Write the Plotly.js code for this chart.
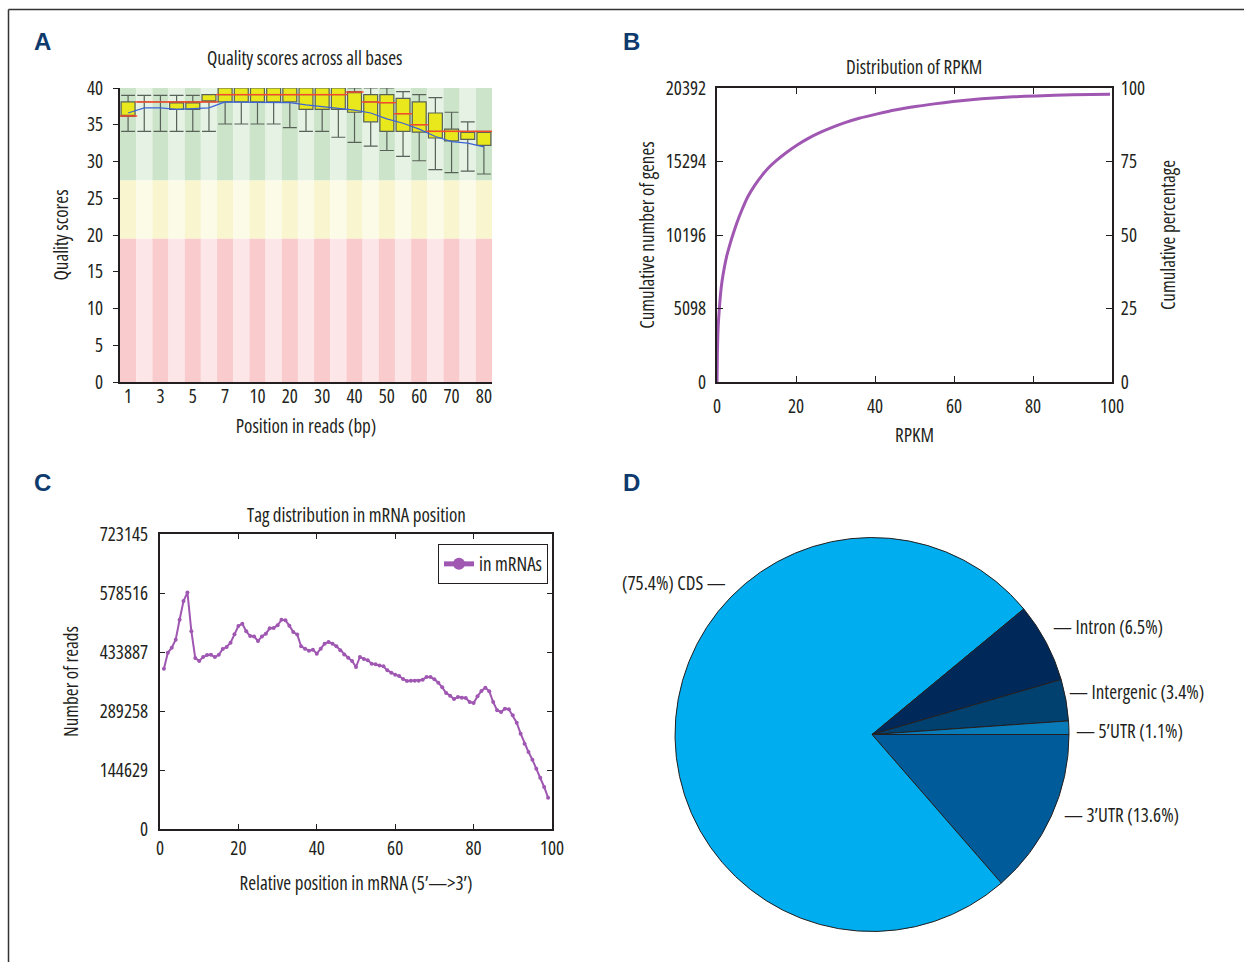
<!DOCTYPE html>
<html><head><meta charset="utf-8">
<script src="https://cdn.plot.ly/plotly-3.0.1.min.js"></script>
<style>html,body{margin:0;padding:0;background:#fff}
svg text, svg tspan{font-stretch:condensed}
</style>
</head><body><div id="chart" style="width:1244px;height:962px"></div>
<script>
// ---------- Panel A: quality scores ----------
const qTickLabels = ["1","","3","","5","","7","","10","","20","","30","","40","","50","","60","","70","","80"];
const qUpper  = [39,39,39,39,39,39,40,40,40,40,40,40,40,40,40,40,40,39.5,39.1,38.7,36.7,35.4,34.1];
const qQ3     = [38.1,38.1,38.1,38.1,38.1,39.1,40,40,40,40,40,40,40,40,39.5,39.1,39.1,38.6,38.1,36.6,34.4,34.1,34.1];
const qMedian = [36.2,38.1,38.1,38.1,38.1,38.1,39.1,39.1,39.1,39.1,39.1,39.1,39.1,39.1,39.45,38.1,38.0,36.5,35.0,34.1,34.1,34.1,34.1];
const qQ1     = [36.15,38.1,38.1,37.1,37.1,38.1,38.1,38.1,38.1,38.1,38.1,37.1,37.1,37.1,36.7,35.4,34.1,34.1,34.0,33.2,32.8,33.0,32.2];
const qLower  = [34.1,34.1,34.1,34.1,34.1,34.1,35.1,35.1,35.1,35.1,34.6,34.1,34.1,33.3,32.6,32.1,31.5,30.7,30.1,28.9,28.5,28.7,28.3];
const qMean   = [36.6,37.3,37.3,37.1,37.2,37.3,38.1,38.1,38.1,38.1,38.0,37.7,37.5,37.3,37.0,36.6,35.8,35.2,34.4,33.4,32.7,32.5,32.0];

// ---------- Panel B: RPKM distribution ----------
const rpkm = [0,0.1,0.3,0.6,0.9,1.3,1.8,2.4,3.2,4,5,6.3,7.8,9.5,11.4,13,15,17.5,20.5,23,26,29,32.4,36,40.6,45,50.7,55,59.8,65,69,75,80.8,90,99.5];
const cumGenes = [0,2039,3874,5098,6118,7035,7851,8667,9482,10196,11012,11929,12847,13622,14336,14845,15355,15906,16477,16885,17292,17639,17985,18291,18597,18863,19128,19291,19454,19597,19678,19780,19841,19923,19964];
const geneTicks = [0,5098,10196,15294,20392];
const pctTicks = [0,25,50,75,100];

// ---------- Panel C: tag distribution ----------
const relPos = [];
for (let i = 1; i <= 99; i++) relPos.push(i);
const readCounts = [393000,432000,444500,464000,513000,559000,580000,485000,419000,412000,
 421600,426500,427000,421600,427000,441200,446100,456800,477200,497600,
 503300,484500,473100,472000,460900,472000,478800,491900,492700,499300,
 513000,511500,498400,482900,477000,447800,442000,437200,439600,429800,
 442000,454300,458400,454300,447800,438000,428000,420000,411800,397100,
 421600,416700,413500,405300,403700,401000,398700,388900,383200,378300,
 375000,367700,362800,363600,363600,363600,366000,372600,372600,366900,
 358700,347300,333400,326900,318700,323600,322000,321100,311300,308900,
 325200,338300,346500,337500,311300,290900,286800,295000,293300,278600,
 260700,233700,209200,188800,170000,147900,125800,103000,76800];
const readTicks = [0,144629,289258,433887,578516,723145];

// ---------- Panel D: read distribution ----------
const regionLabels = ["3’UTR","CDS","Intron","Intergenic","5’UTR"];
const regionPct = [13.6,75.4,6.5,3.4,1.1];
const regionColors = ["#005b9b","#00adee","#00295a","#00416f","#0a7bb9"];

// ---------- helpers ----------
const W = 1244, H = 962;
const FONT = '"Open Sans", sans-serif';
const TXT = '#231f20';
const PURPLE = '#9f57b2';
const hx = (a, b) => [a / W, b / W];
const vy = (top, bottom) => [1 - bottom / H, 1 - top / H];
const qIdx = qQ1.map((_, i) => i + 1);

const shapes = [];
const bands = [
  {lo: 27.4, hi: 40, dark: '#cce5ca', light: '#e6f2e4'},
  {lo: 19.5, hi: 27.4, dark: '#f8f5cf', light: '#fbfbe8'},
  {lo: 0, hi: 19.5, dark: '#f9cbcc', light: '#fde6e7'}
];
qIdx.forEach((p, i) => {
  bands.forEach(b => {
    shapes.push({type: 'rect', xref: 'x', yref: 'y', layer: 'below',
      x0: p - 0.5, x1: p + 0.5, y0: b.lo, y1: b.hi,
      fillcolor: i % 2 === 0 ? b.dark : b.light, line: {width: 0}});
  });
});
shapes.push({type: 'line', xref: 'paper', yref: 'paper', x0: 8.5 / W, x1: 1, y0: 1 - 9.5 / H, y1: 1 - 9.5 / H, line: {color: '#333', width: 1.5}});
shapes.push({type: 'line', xref: 'paper', yref: 'paper', x0: 8.5 / W, x1: 8.5 / W, y0: 0, y1: 1 - 9.5 / H, line: {color: '#333', width: 1.5}});

const traces = [];
traces.push({type: 'box', x: qIdx, q1: qQ1, median: qMedian, q3: qQ3,
  lowerfence: qLower, upperfence: qUpper, xaxis: 'x', yaxis: 'y',
  fillcolor: '#e9e81d', line: {color: '#586258', width: 1.2}, width: 0.86,
  whiskerwidth: 1, boxpoints: false, showlegend: false, hoverinfo: 'y'});
traces.push({type: 'scatter', mode: 'markers', x: qIdx, y: qMedian, xaxis: 'x', yaxis: 'y',
  marker: {symbol: 'line-ew', size: 13, line: {color: '#ff4a2a', width: 1.4}},
  showlegend: false, hoverinfo: 'skip'});
traces.push({type: 'scatter', mode: 'lines', x: qIdx, y: qMean, xaxis: 'x', yaxis: 'y',
  line: {color: '#3d63d6', width: 1.2}, showlegend: false, hoverinfo: 'skip'});

traces.push({type: 'scatter', mode: 'lines', x: rpkm, y: cumGenes, xaxis: 'x2', yaxis: 'y2',
  line: {color: PURPLE, width: 3, shape: 'spline', smoothing: 0.6}, showlegend: false});
traces.push({type: 'scatter', mode: 'lines', x: [], y: [], xaxis: 'x2', yaxis: 'y3',
  showlegend: false, hoverinfo: 'skip'});

traces.push({type: 'scatter', mode: 'lines+markers', name: 'in mRNAs', x: relPos, y: readCounts,
  xaxis: 'x3', yaxis: 'y4', line: {color: PURPLE, width: 2}, marker: {color: PURPLE, size: 4},
  showlegend: true});

traces.push({type: 'pie', labels: regionLabels, values: regionPct, sort: false,
  direction: 'clockwise', rotation: 90, textinfo: 'none',
  marker: {colors: regionColors, line: {color: TXT, width: 1}},
  domain: {x: hx(675, 1069), y: vy(537, 932)}, showlegend: false});

const tickFont = {family: FONT, size: 19, color: TXT};
const titleFont = {family: FONT, size: 19, color: TXT};

const annotations = [];
const panelLabel = (t, x, y) => annotations.push({text: '<b>' + t + '</b>', x: x / W, y: 1 - y / H,
  xref: 'paper', yref: 'paper', showarrow: false, xanchor: 'center', yanchor: 'middle',
  font: {family: '"Liberation Sans", Arial, sans-serif', size: 24, color: '#0e3a6d'}});
panelLabel('A', 42, 42); panelLabel('B', 631, 42); panelLabel('C', 42, 483); panelLabel('D', 631, 483);
const subTitle = (t, x, y) => annotations.push({text: t, x: x / W, y: 1 - y / H, xref: 'paper', yref: 'paper',
  showarrow: false, xanchor: 'center', yanchor: 'middle', font: titleFont});
subTitle('Quality scores across all bases', 304, 58);
subTitle('Distribution of RPKM', 914, 67);
subTitle('Tag distribution in mRNA position', 356, 515);

const pieLabelPos = {"CDS": [727, 583, 'right'], "Intron": [1052, 627, 'left'], "Intergenic": [1068, 692, 'left'],
  "5’UTR": [1075, 731, 'left'], "3’UTR": [1063, 815, 'left']};
regionLabels.forEach((lab, i) => {
  const p = pieLabelPos[lab];
  const txt = p[2] === 'right' ? '(' + regionPct[i].toFixed(1) + '%) ' + lab + ' —'
                               : '— ' + lab + ' (' + regionPct[i].toFixed(1) + '%)';
  annotations.push({text: txt, x: p[0] / W, y: 1 - p[1] / H, xref: 'paper', yref: 'paper', showarrow: false,
    xanchor: p[2], yanchor: 'middle', borderpad: 0, font: titleFont});
});

const layout = {
  width: W, height: H, margin: {l: 0, r: 0, t: 0, b: 0},
  paper_bgcolor: '#fff', plot_bgcolor: 'rgba(0,0,0,0)',
  font: {family: FONT, size: 19, color: TXT},
  showlegend: true,
  legend: {x: 548 / W, y: 1 - 544 / H, xanchor: 'right', yanchor: 'top', bordercolor: TXT, borderwidth: 1,
    bgcolor: '#fff', itemsizing: 'constant', font: {family: FONT, size: 19, color: TXT}},
  shapes: shapes, annotations: annotations,
  xaxis: {domain: hx(120, 492), range: [0.5, 23.5], tickvals: qIdx, ticktext: qTickLabels,
    showline: true, linecolor: TXT, linewidth: 2, ticks: '', tickcolor: TXT,
    showgrid: false, zeroline: false, tickfont: tickFont, anchor: 'y', ticklabelstandoff: -4,
    title: {text: 'Position in reads (bp)', font: titleFont, standoff: 12}},
  yaxis: {domain: vy(88, 382), range: [0, 40], dtick: 5, showline: true, linecolor: TXT, linewidth: 2,
    ticks: 'outside', ticklen: 5, tickcolor: TXT, showgrid: false, zeroline: false, tickfont: tickFont, anchor: 'x',
    ticklabelstandoff: 6, title: {text: 'Quality scores', font: titleFont, standoff: 13}},
  xaxis2: {domain: hx(717, 1112), range: [0, 100], dtick: 20, anchor: 'y2', showline: true, mirror: 'ticks',
    linecolor: TXT, linewidth: 2, ticks: 'inside', ticklen: 6, tickcolor: TXT, showgrid: false, zeroline: false,
    tickfont: tickFont, ticklabelstandoff: 6, title: {text: 'RPKM', font: titleFont, standoff: 11}},
  yaxis2: {domain: vy(88, 382), range: [0, 20392], tickvals: geneTicks, ticktext: geneTicks.map(String), anchor: 'x2',
    showline: true, mirror: true, linecolor: TXT, linewidth: 2, ticks: 'inside', ticklen: 6, tickcolor: TXT,
    showgrid: false, zeroline: false, tickfont: tickFont, ticklabelstandoff: 5,
    title: {text: 'Cumulative number of genes', font: titleFont, standoff: 6}},
  yaxis3: {domain: vy(88, 382), range: [0, 100], tickvals: pctTicks, anchor: 'x2', overlaying: 'y2', side: 'right',
    showline: true, linecolor: TXT, linewidth: 2, ticks: 'inside', ticklen: 6, tickcolor: TXT, showgrid: false,
    zeroline: false, tickfont: tickFont, ticklabelstandoff: 3,
    title: {text: 'Cumulative percentage', font: titleFont, standoff: 18}},
  xaxis3: {domain: hx(160, 552), range: [0, 100], dtick: 20, anchor: 'y4', showline: true, mirror: 'ticks',
    linecolor: TXT, linewidth: 2, ticks: 'inside', ticklen: 5, tickcolor: TXT, showgrid: false, zeroline: false,
    tickfont: tickFont, ticklabelstandoff: 1, title: {text: 'Relative position in mRNA (5’—>3’)', font: titleFont, standoff: 17}},
  yaxis4: {domain: vy(534, 829), range: [0, 723145], tickvals: readTicks, ticktext: readTicks.map(String), anchor: 'x3',
    showline: true, mirror: 'ticks', linecolor: TXT, linewidth: 2, ticks: 'inside', ticklen: 5, tickcolor: TXT,
    showgrid: false, zeroline: false, tickfont: tickFont, ticklabelstandoff: 6,
    title: {text: 'Number of reads', font: titleFont, standoff: 16}}
};

Plotly.newPlot('chart', traces, layout, {displayModeBar: false, staticPlot: true});
</script></body></html>
